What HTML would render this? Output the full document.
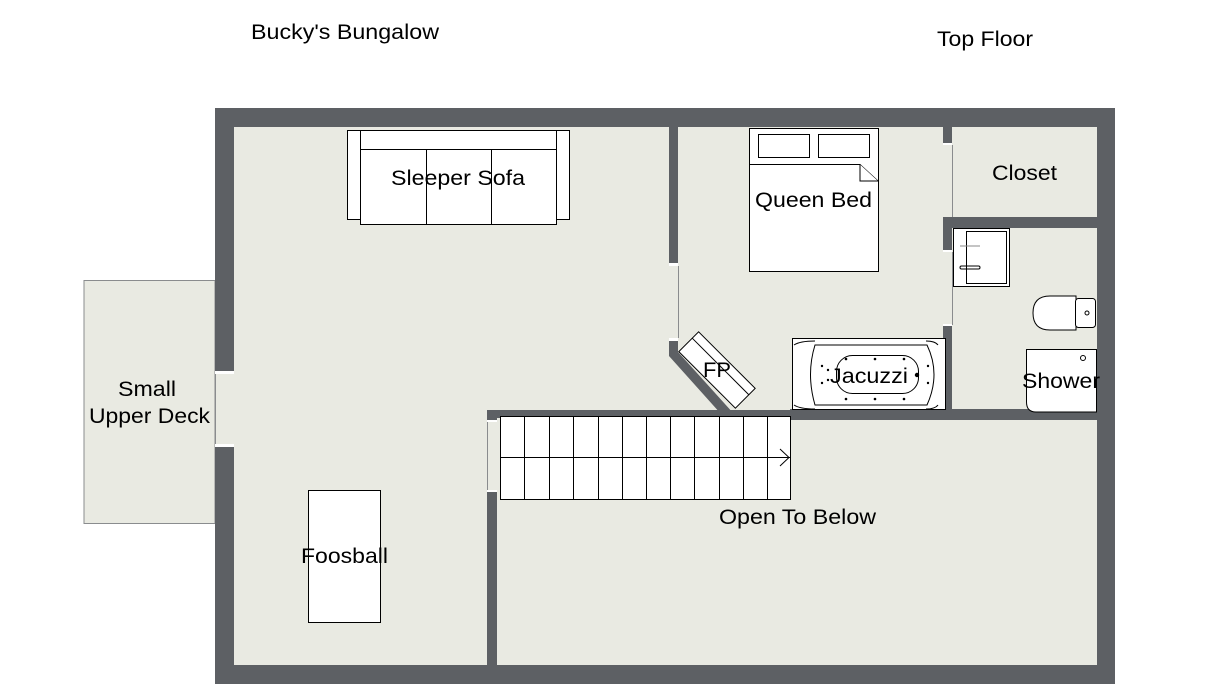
<!DOCTYPE html>
<html><head><meta charset="utf-8"><style>
html,body{margin:0;padding:0;background:#fff;}
svg{display:block;}
text{font-family:"Liberation Sans",Arial,sans-serif;fill:#000;}
</style></head><body>
<svg width="1216" height="689" viewBox="0 0 1216 689" xmlns="http://www.w3.org/2000/svg">
<rect width="1216" height="689" fill="#fff"/>
<text x="251" y="39" font-size="21" textLength="188" lengthAdjust="spacingAndGlyphs">Bucky's Bungalow</text>
<text x="937" y="46" font-size="21" textLength="96" lengthAdjust="spacingAndGlyphs">Top Floor</text>

<!-- deck -->
<rect x="84" y="280.5" width="131" height="243" fill="#e9eae2" stroke="#8a8c8e" stroke-width="1"/>

<!-- floor -->
<rect x="215" y="108" width="900" height="576" fill="#5d6064"/>
<rect x="234" y="127" width="863" height="538" fill="#e9eae2"/>

<!-- left wall opening -->
<rect x="215" y="372" width="19" height="73" fill="#e9eae2"/>
<line x1="215.5" y1="372" x2="215.5" y2="445" stroke="#8a8c8e"/>
<rect x="215" y="371" width="19" height="3" fill="#fff"/>
<rect x="215" y="444" width="19" height="3" fill="#fff"/>

<!-- living/bedroom wall -->
<rect x="669" y="127" width="9" height="137" fill="#5d6064"/>
<rect x="669" y="263" width="9" height="3" fill="#fff"/>
<line x1="678.5" y1="266" x2="678.5" y2="338" stroke="#8a8c8e"/>
<rect x="669" y="338" width="9" height="3" fill="#fff"/>
<polygon points="669,341 678,341 678,352 734,414 721,414 669,356" fill="#5d6064"/>

<!-- bedroom/closet/bath wall -->
<rect x="943" y="127" width="9" height="17" fill="#5d6064"/>
<rect x="943" y="143" width="9" height="2" fill="#fff"/>
<line x1="952.5" y1="145" x2="952.5" y2="218" stroke="#8a8c8e"/>
<rect x="943" y="217" width="154" height="11" fill="#5d6064"/>
<rect x="943" y="217" width="9" height="34" fill="#5d6064"/>
<rect x="943" y="250" width="9" height="2" fill="#fff"/>
<line x1="952.5" y1="252" x2="952.5" y2="325" stroke="#8a8c8e"/>
<rect x="943" y="324" width="9" height="2" fill="#fff"/>
<rect x="943" y="326" width="9" height="86" fill="#5d6064"/>

<!-- horizontal wall -->
<rect x="487" y="410" width="303" height="8" fill="#5d6064"/>
<rect x="790" y="409" width="307" height="11" fill="#5d6064"/>
<rect x="487" y="410" width="10" height="11" fill="#5d6064"/>
<rect x="487" y="420" width="10" height="2" fill="#fff"/>
<line x1="487.5" y1="422" x2="487.5" y2="491" stroke="#8a8c8e"/>
<rect x="487" y="490" width="10" height="2" fill="#fff"/>
<rect x="487" y="492" width="10" height="173" fill="#5d6064"/>

<!-- stairs -->
<g stroke="#000" stroke-width="1" fill="#fff">
<rect x="500.5" y="416.5" width="290" height="83"/>
<line x1="500" y1="457.5" x2="790" y2="457.5"/>
<line x1="524.5" y1="416" x2="524.5" y2="500"/>
<line x1="549.5" y1="416" x2="549.5" y2="500"/>
<line x1="573.5" y1="416" x2="573.5" y2="500"/>
<line x1="598.5" y1="416" x2="598.5" y2="500"/>
<line x1="622.5" y1="416" x2="622.5" y2="500"/>
<line x1="646.5" y1="416" x2="646.5" y2="500"/>
<line x1="670.5" y1="416" x2="670.5" y2="500"/>
<line x1="694.5" y1="416" x2="694.5" y2="500"/>
<line x1="719.5" y1="416" x2="719.5" y2="500"/>
<line x1="743.5" y1="416" x2="743.5" y2="500"/>
<line x1="767.5" y1="416" x2="767.5" y2="500"/>
<polyline points="780,449 789,457.5 780,466" fill="none"/>
</g>

<!-- sofa -->
<g stroke="#000" stroke-width="1" fill="#fff">
<rect x="347.5" y="130.5" width="13" height="89"/>
<rect x="556.5" y="130.5" width="13" height="89"/>
<rect x="360.5" y="130.5" width="196" height="94"/>
<line x1="360" y1="149.5" x2="557" y2="149.5"/>
<line x1="426.5" y1="149" x2="426.5" y2="224"/>
<line x1="491.5" y1="149" x2="491.5" y2="224"/>
</g>
<text x="391" y="185" font-size="21" textLength="134" lengthAdjust="spacingAndGlyphs">Sleeper Sofa</text>

<!-- bed -->
<g stroke="#000" stroke-width="1" fill="#fff">
<rect x="749.5" y="128.5" width="129" height="143"/>
<rect x="758.5" y="134.5" width="51" height="23"/>
<rect x="818.5" y="134.5" width="51" height="23"/>
<polyline points="749,164.5 860,164.5 878,181"/>
<polyline points="860,164.5 860,181 878,181" fill="#fff"/>
</g>
<text x="755" y="207" font-size="21" textLength="117" lengthAdjust="spacingAndGlyphs">Queen Bed</text>

<text x="992" y="180" font-size="21" textLength="65" lengthAdjust="spacingAndGlyphs">Closet</text>

<!-- sink -->
<g stroke="#000" stroke-width="1" fill="#fff">
<rect x="953.5" y="228.5" width="56" height="58"/>
<rect x="966.5" y="231.5" width="40" height="52"/>
<line x1="960" y1="246" x2="980" y2="246" stroke="#888"/>
<rect x="960" y="266" width="20" height="3" rx="1.5" fill="none"/>
</g>

<!-- toilet -->
<g stroke="#000" stroke-width="1" fill="#fff">
<path d="M1076,296 L1050,296 Q1033,296 1033,313 Q1033,330 1050,330 L1076,330 Z"/>
<rect x="1075.5" y="298.5" width="20" height="29" rx="3"/>
<circle cx="1087" cy="313" r="2" fill="none"/>
</g>

<!-- shower -->
<path d="M1026.5,349.5 L1096.5,349.5 L1096.5,412 L1036,412 Q1026.5,412 1026.5,402 Z" fill="#fff" stroke="#000"/>
<circle cx="1083" cy="358" r="2.5" fill="none" stroke="#000"/>
<text x="1022" y="388" font-size="21" textLength="78" lengthAdjust="spacingAndGlyphs">Shower</text>

<!-- tub -->
<g stroke="#000" stroke-width="1" fill="#fff">
<rect x="792.5" y="338.5" width="153" height="71"/>
<path d="M815,345 Q806,374 815,405 L927,405 Q941,374 927,345 Z" fill="none"/>
<path d="M794,345 Q800,341 815,341 M794,405 Q800,409 815,409 M926,341 Q935,341 938,345 M926,409 Q935,409 938,405" fill="none"/>
<rect x="836.5" y="355.5" width="82" height="38" rx="16" fill="none"/>
</g>
<g fill="#000">
<circle cx="846" cy="359" r="1.3"/><circle cx="875" cy="359" r="1.3"/><circle cx="904" cy="359" r="1.3"/>
<circle cx="846" cy="399" r="1.3"/><circle cx="875" cy="399" r="1.3"/><circle cx="904" cy="399" r="1.3"/>
<circle cx="822" cy="366" r="1.2"/><circle cx="822" cy="383" r="1.2"/><circle cx="828" cy="370" r="1.2"/><circle cx="828" cy="380" r="1.2"/>
<circle cx="928" cy="366" r="1.2"/><circle cx="928" cy="383" r="1.2"/>
<circle cx="917" cy="375" r="2.2"/>
</g>
<text x="830" y="383" font-size="21" textLength="78" lengthAdjust="spacingAndGlyphs">Jacuzzi</text>

<!-- FP -->
<g transform="translate(717,370) rotate(45)">
<rect x="-40" y="-14" width="80" height="28" fill="#fff" stroke="#000"/>
<line x1="-40" y1="-5" x2="40" y2="-5" stroke="#000"/>
</g>
<text x="703" y="377" font-size="21" textLength="28" lengthAdjust="spacingAndGlyphs">FP</text>

<!-- foosball -->
<rect x="308.5" y="490.5" width="72" height="132" fill="#fff" stroke="#000"/>
<text x="301" y="563" font-size="21" textLength="87" lengthAdjust="spacingAndGlyphs">Foosball</text>

<text x="118" y="396" font-size="21" textLength="58" lengthAdjust="spacingAndGlyphs">Small</text>
<text x="89" y="423" font-size="21" textLength="121" lengthAdjust="spacingAndGlyphs">Upper Deck</text>

<text x="719" y="524" font-size="21" textLength="157" lengthAdjust="spacingAndGlyphs">Open To Below</text>
</svg>
</body></html>
